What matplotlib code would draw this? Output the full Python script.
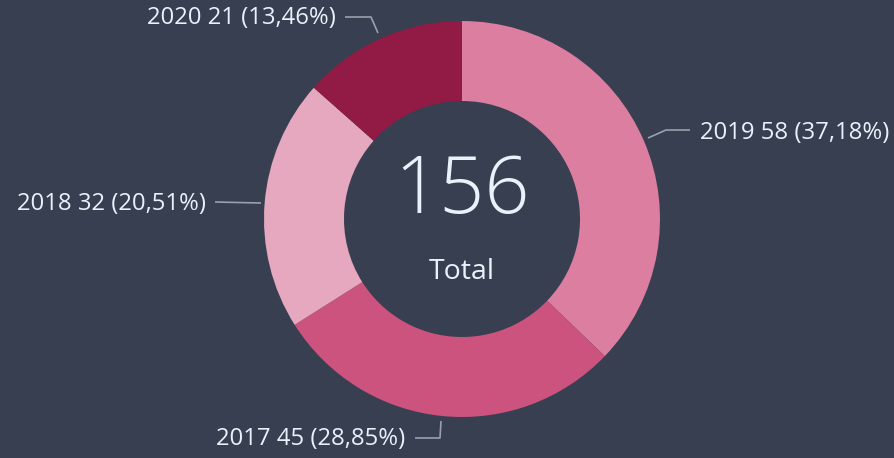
import matplotlib
matplotlib.use("Agg")
import matplotlib.pyplot as plt
import numpy as np

# data
years = ["2019", "2017", "2018", "2020"]
counts = [58, 45, 32, 21]
colors = ["#DB7E9F", "#CC537E", "#E5A8BE", "#921B45"]
total_label = "Total"

BG = "#373F51"
TXT = "#E9F1FB"
LINE = "#9AA1AB"

W, H = 895, 458
fig = plt.figure(figsize=(W / 100, H / 100), dpi=100, facecolor=BG)
ax = fig.add_axes([0, 0, 1, 1])
ax.set_facecolor(BG)

cx, cy = 462, H - 219
R, r_in = 198, 118
ax.pie(counts, colors=colors, startangle=90, counterclock=False,
       center=(cx, cy), radius=R, frame=True,
       wedgeprops=dict(width=R - r_in, linewidth=0))
ax.set_xlim(0, W)
ax.set_ylim(0, H)
ax.set_aspect("equal")
ax.axis("off")

total = sum(counts)
font = "Open Sans"
ax.text(cx, H - 192, f"{total}", ha="center", va="center", fontsize=57,
        color=TXT, family=font, fontweight="light")
ax.text(cx, H - 272, total_label, ha="center", va="center", fontsize=20.5,
        color=TXT, family=font)

labels = [f"{y} {c} ({c / total * 100:.2f}%)".replace(".", ",")
          for y, c in zip(years, counts)]

# leader paths in pixel coords (x, y from top), and label anchor
leaders = {
    "2019": ([(648, 138), (666, 130), (690, 130)], (700, 133), "left"),
    "2017": ([(441, 421), (440, 438), (415, 438)], (405, 439), "right"),
    "2018": ([(261, 203), (215, 202)], (206, 204), "right"),
    "2020": ([(378, 33), (371, 17), (345, 17)], (336, 18), "right"),
}
for y, lab in zip(years, labels):
    pts, (tx, ty), ha = leaders[y]
    xs = [p[0] for p in pts]
    ys = [H - p[1] for p in pts]
    ax.plot(xs, ys, color=LINE, lw=1.2, solid_capstyle="butt")
    ax.text(tx, H - ty, lab, ha=ha, va="center", fontsize=17.2,
            color=TXT, family=font)

fig.savefig("out.png", dpi=100, facecolor=BG)
